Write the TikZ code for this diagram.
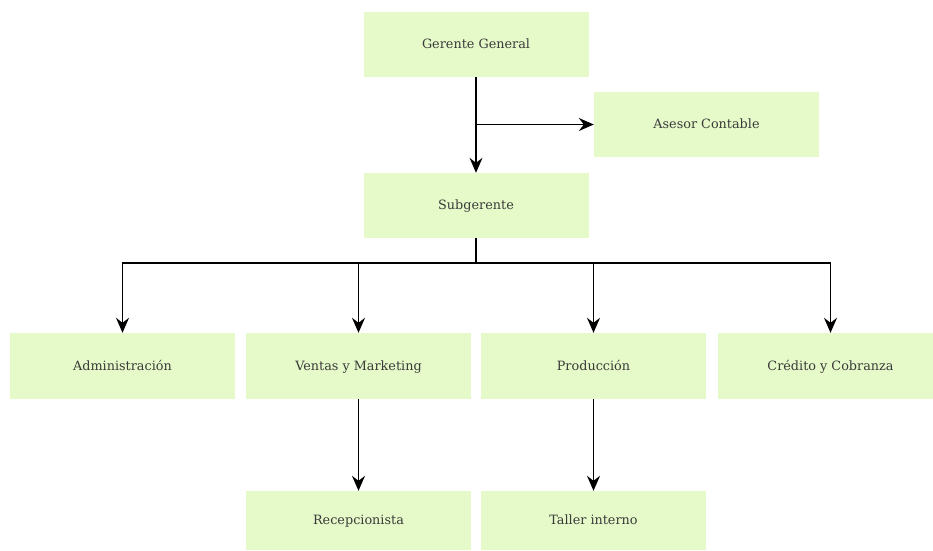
\documentclass[tikz,border=0pt]{standalone}
\usepackage{fontspec}
\setmainfont{DejaVu Serif}
\usetikzlibrary{arrows.meta}
\definecolor{boxfill}{HTML}{E5FAC8}
\definecolor{txt}{HTML}{3A3A3A}
\begin{document}
\begin{tikzpicture}[x=1pt,y=-1pt,
  box/.style={fill=boxfill,draw=none,minimum width=225pt,minimum height=65pt,inner sep=0pt,
    font=\fontsize{12.8}{14}\selectfont,text=txt,anchor=center,text height=0.82em,text depth=0em},
  conn/.style={line width=1.5pt,draw=black},
  arr/.style={conn,-{Stealth[length=15pt,width=13pt,inset=5pt]}}]
\useasboundingbox (0,0) rectangle (933,550);
\node[box] (gg) at (476,44.5) {Gerente General};
\node[box] (ac) at (706.5,124.5) {Asesor Contable};
\node[box] (sg) at (476,205.5) {Subgerente};
\node[box,minimum height=66pt] (adm) at (122.5,366) {Administración};
\node[box,minimum height=66pt] (vm) at (358.5,366) {Ventas y Marketing};
\node[box,minimum height=66pt] (pr) at (593.5,366) {Producción};
\node[box,minimum height=66pt] (cc) at (830.5,366) {Crédito y Cobranza};
\node[box,minimum height=59pt] (re) at (358.5,520.5) {Recepcionista};
\node[box,minimum height=59pt] (ti) at (593.5,520.5) {Taller interno};
\coordinate (b1) at (476,124.5);
\coordinate (bus) at (476,263);
\draw[arr] (gg.south) -- (sg.north);
\draw[arr] (b1) -- (ac.west);
\draw[conn] (sg.south) -- (bus);
\draw[arr] (bus) -| (adm.north);
\draw[arr] (bus) -| (vm.north);
\draw[arr] (bus) -| (pr.north);
\draw[arr] (bus) -| (cc.north);
\draw[arr] (vm.south) -- (re.north);
\draw[arr] (pr.south) -- (ti.north);
\end{tikzpicture}
\end{document}
